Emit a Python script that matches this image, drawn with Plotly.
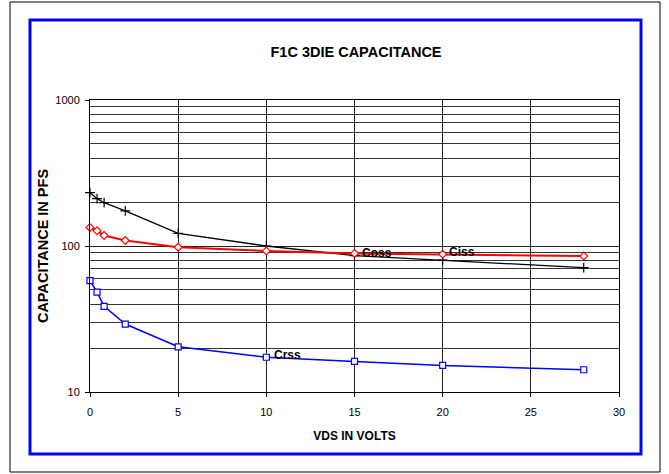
import plotly.graph_objects as go
import math

# Data
vds = [0, 0.4, 0.8, 2, 5, 10, 15, 20, 28]
ciss_black = [232, 211, 198, 174, 122, 100, 86, 80, 71]
coss_red = [134, 127, 118, 109, 98, 92.5, 89, 87.7, 85.3]
crss_blue = [58, 48.3, 38.6, 29.2, 20.4, 17.3, 16.2, 15.2, 14.2]

title_text = "F1C 3DIE CAPACITANCE"
x_title = "VDS IN VOLTS"
y_title = "CAPACITANCE IN PFS"
labels = [("Coss", 15.3, 90), ("Ciss", 20.25, 91), ("Crss", 10.3, 18)]

FONT = "Liberation Sans, Arial, sans-serif"
W, H = 669, 474
ML, MR, MT, MB = 90, 50, 100, 82
PW, PH = W - ML - MR, H - MT - MB

def px(x):
    return (x - ML) / PW

def py(y):
    return (H - MB - y) / PH

fig = go.Figure()
fig.add_trace(go.Scatter(x=vds, y=ciss_black, mode="lines+markers",
                         line=dict(color="black", width=1.3),
                         marker=dict(symbol="cross-thin", size=7,
                                     line=dict(color="black", width=1.2)),
                         cliponaxis=False, showlegend=False))
fig.add_trace(go.Scatter(x=vds, y=coss_red, mode="lines+markers",
                         line=dict(color="#ff0000", width=2),
                         marker=dict(symbol="diamond", size=6, color="white",
                                     line=dict(color="#ff0000", width=1.2)),
                         cliponaxis=False, showlegend=False))
fig.add_trace(go.Scatter(x=vds, y=crss_blue, mode="lines+markers",
                         line=dict(color="#0000ff", width=1.5),
                         marker=dict(symbol="square", size=6, color="white",
                                     line=dict(color="#0000ff", width=1.2)),
                         cliponaxis=False, showlegend=False))

for t, x, y in labels:
    fig.add_annotation(x=x, y=math.log10(y), text="<b>" + t + "</b>", showarrow=False,
                       xanchor="left", yanchor="middle",
                       font=dict(family=FONT, size=12, color="black"))

# borders
fig.add_shape(type="rect", xref="paper", yref="paper",
              x0=px(10), x1=px(660), y0=py(472), y1=py(2),
              line=dict(color="black", width=1), layer="below")
fig.add_shape(type="rect", xref="paper", yref="paper",
              x0=px(30), x1=px(641), y0=py(454), y1=py(20),
              line=dict(color="#0000ff", width=3), layer="below")

fig.update_layout(
    width=W, height=H,
    margin=dict(l=ML, r=MR, t=MT, b=MB),
    paper_bgcolor="white", plot_bgcolor="white",
    title=dict(text="<b>" + title_text + "</b>", xref="container", x=356 / W,
               xanchor="center", y=1 - 52 / H, yanchor="middle",
               font=dict(family=FONT, size=14.5, color="black")),
    font=dict(family=FONT, color="black"),
)
fig.update_xaxes(range=[0, 30], dtick=5, tick0=0,
                 showgrid=True, gridcolor="#222", gridwidth=1,
                 showline=True, linecolor="black", linewidth=1, mirror=True,
                 ticks="outside", ticklen=4, tickcolor="black",
                 tickfont=dict(family=FONT, size=11, color="black"),
                 ticklabelstandoff=6,
                 zeroline=False,
                 title=dict(text="<b>" + x_title + "</b>", standoff=14,
                            font=dict(family=FONT, size=12, color="black")))
fig.update_yaxes(type="log", range=[1, 3], dtick=1,
                 showgrid=True, gridcolor="#222", gridwidth=1,
                 minor=dict(dtick="D1", showgrid=True, gridcolor="#333", gridwidth=1, ticks=""),
                 showline=True, linecolor="black", linewidth=1, mirror=True,
                 ticks="outside", ticklen=4, tickcolor="black",
                 tickfont=dict(family=FONT, size=11, color="black"),
                 ticklabelstandoff=3,
                 title=dict(text="<b>" + y_title + "</b>", standoff=3,
                            font=dict(family=FONT, size=14.5, color="black")))

fig.write_html("out.html", config={"displayModeBar": False},
               post_script="document.body.style.margin='0';")
